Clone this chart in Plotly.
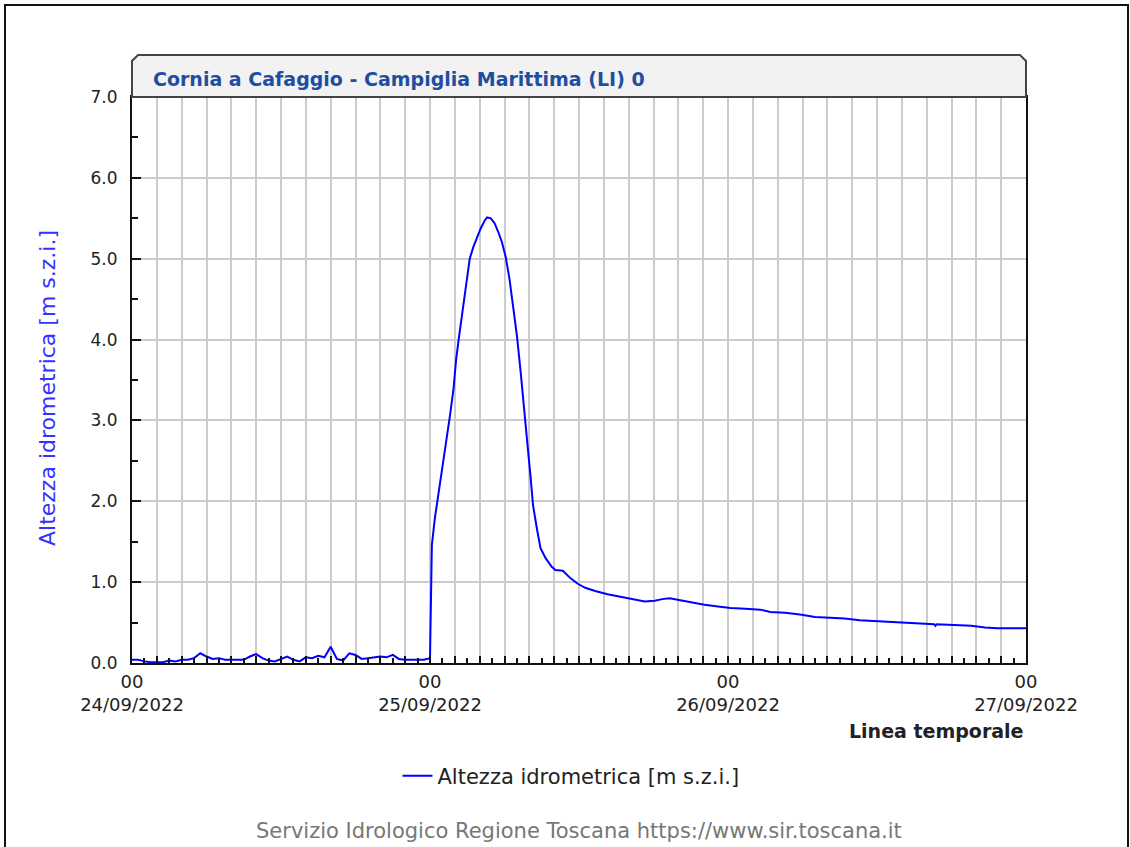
import pandas as pd
import plotly.graph_objects as go

# ---- data (hours since 24/09/2022 00:00, water level in m) ----
hours = [0, 0.5, 1, 1.5, 2, 2.5, 3, 3.5, 4, 4.5, 5, 5.5, 6, 6.5, 7, 7.5, 8, 8.5, 9, 9.5,
         10, 10.5, 11, 11.5, 12, 12.5, 13, 13.5, 14, 14.5, 15, 15.5, 16, 16.5, 17, 17.5,
         18, 18.5, 19, 19.5, 20, 20.5, 21, 21.5, 22, 22.5, 23, 23.5, 24.0,
         24.05, 24.15, 24.4, 24.7, 25.0, 25.3, 25.6, 25.9, 26.1, 26.35, 26.6, 26.9, 27.2,
         27.5, 27.8, 28.1, 28.4, 28.6, 28.9, 29.2, 29.5, 29.8, 30.1, 30.4, 30.7, 31.0,
         31.3, 31.6, 31.85, 32.1, 32.3, 32.6, 32.9, 33.3, 33.8, 34.1, 34.7, 35.3, 35.9,
         36.5, 37.3, 38.3, 39.3, 40.3, 41.3, 42.1, 42.7, 43.3, 44.0, 44.5, 45.3, 46.1,
         47.2, 48.2, 49.4, 50.6, 51.4, 52.6, 53.8, 55.0, 56.2, 57.4, 58.6, 59.8, 61.0,
         61.9, 63.3, 64.6, 64.7, 64.8, 66.2, 67.6, 68.7, 69.7, 72.0]
level = [0.04, 0.04, 0.02, 0.01, 0.01, 0.01, 0.03, 0.02, 0.04, 0.04, 0.06, 0.12, 0.08, 0.05,
         0.06, 0.04, 0.04, 0.04, 0.04, 0.08, 0.11, 0.06, 0.03, 0.02, 0.05, 0.08, 0.04, 0.02,
         0.07, 0.06, 0.09, 0.07, 0.20, 0.05, 0.03, 0.12, 0.10, 0.05, 0.06, 0.07, 0.08, 0.07,
         0.10, 0.05, 0.04, 0.04, 0.04, 0.04, 0.06,
         0.55, 1.46, 1.80, 2.10, 2.40, 2.75, 3.05, 3.40, 3.75, 4.05, 4.35, 4.65, 5.00,
         5.15, 5.27, 5.38, 5.47, 5.51, 5.50, 5.44, 5.33, 5.20, 5.02, 4.75, 4.40, 4.05,
         3.60, 3.15, 2.70, 2.30, 1.95, 1.67, 1.42, 1.30, 1.19, 1.15, 1.14, 1.05, 0.98,
         0.93, 0.89, 0.85, 0.82, 0.79, 0.76, 0.77, 0.79, 0.80, 0.78, 0.76, 0.74, 0.72,
         0.70, 0.68, 0.67, 0.66, 0.63, 0.62, 0.60, 0.57, 0.56, 0.55, 0.53, 0.52, 0.51,
         0.50, 0.49, 0.48, 0.46, 0.48, 0.47, 0.46, 0.44, 0.43, 0.43]
series_name = "Altezza idrometrica [m s.z.i.]"
start_time = "2022-09-24 00:00"
day_labels = ["00<br>24/09/2022", "00<br>25/09/2022", "00<br>26/09/2022", "00<br>27/09/2022"]
y_ticks = [0, 1, 2, 3, 4, 5, 6, 7]
title_text = "Cornia a Cafaggio - Campiglia Marittima (LI) 0"
footer_text = "Servizio Idrologico Regione Toscana https://www.sir.toscana.it"

start = pd.Timestamp(start_time)
x = start + pd.to_timedelta(hours, unit="h")

grid_vals = [start + pd.Timedelta(hours=h) for h in range(0, 73, 2)]
grid_text = [day_labels[h // 24] if h % 24 == 0 else "" for h in range(0, 73, 2)]

FONT = "DejaVu Sans"
W, H = 1130, 847
L, R, T, B = 132, 1026, 97, 663


def px(xp):
    return (xp - L) / (R - L)


def py(yp):
    return (B - yp) / (B - T)


fig = go.Figure()
fig.add_trace(go.Scatter(x=x, y=level, mode="lines", name=series_name,
                         line=dict(color="#0000ff", width=2)))

fig.update_layout(
    width=W, height=H,
    margin=dict(l=L, r=W - R, t=T, b=H - B),
    paper_bgcolor="white", plot_bgcolor="white",
    font=dict(family=FONT, size=14, color="#222222"),
    showlegend=True,
    legend=dict(orientation="h", x=px(571), y=py(776), xanchor="center", yanchor="middle",
                font=dict(family=FONT, size=21, color="#222222")),
)

fig.update_xaxes(
    type="date", range=[start, start + pd.Timedelta(hours=72)],
    tickmode="array", tickvals=grid_vals, ticktext=grid_text,
    showgrid=True, gridcolor="#cccccc", gridwidth=2,
    showline=True, linecolor="#111111", linewidth=2, mirror=True,
    ticks="inside", ticklen=7, tickwidth=2, tickcolor="#111111",
    minor=dict(tickmode="linear", tick0=start, dtick=3600000, ticks="inside",
               ticklen=5, tickwidth=2, tickcolor="#111111", showgrid=False),
    tickfont=dict(family=FONT, size=18, color="#222222"),
    ticklabelstandoff=1,
    zeroline=False,
)
fig.update_yaxes(
    range=[0, 7], tickmode="array", tickvals=y_ticks, tickformat=".1f",
    showgrid=True, gridcolor="#cccccc", gridwidth=2,
    showline=True, linecolor="#111111", linewidth=2, mirror=True,
    ticks="inside", ticklen=9, tickwidth=2, tickcolor="#111111",
    minor=dict(tickmode="linear", tick0=0, dtick=0.5, ticks="inside", ticklen=6,
               tickwidth=2, tickcolor="#111111", showgrid=False),
    tickfont=dict(family=FONT, size=17, color="#222222"),
    ticklabelstandoff=9,
    zeroline=False,
)

# outer frame
fig.add_shape(type="rect", xref="paper", yref="paper",
              x0=px(5), x1=px(1128), y0=py(870), y1=py(5),
              line=dict(color="#111111", width=2), fillcolor="rgba(0,0,0,0)", layer="below")

# title box with chamfered top corners
x0, x1, ytop, ybot, c = px(L), px(R), py(55), py(T), 6
path = (f"M {x0},{ybot} L {x0},{py(55 + c)} L {px(L + c)},{ytop} "
        f"L {px(R - c)},{ytop} L {x1},{py(55 + c)} L {x1},{ybot} Z")
fig.add_shape(type="path", xref="paper", yref="paper", path=path,
              fillcolor="#f2f2f2", line=dict(color="#444444", width=2))

fig.add_annotation(xref="paper", yref="paper", x=px(151), y=py(79), xanchor="left",
                   yanchor="middle", showarrow=False, text=title_text,
                   font=dict(family=FONT, size=19, color="#1f4ea1", weight="bold"))

fig.add_annotation(xref="paper", yref="paper", x=px(47), y=py(388), xanchor="center",
                   yanchor="middle", showarrow=False, textangle=-90,
                   text=series_name,
                   font=dict(family=FONT, size=22, color="#3333ff"))

fig.add_annotation(xref="paper", yref="paper", x=px(1025), y=py(731), xanchor="right",
                   yanchor="middle", showarrow=False, text="Linea temporale",
                   font=dict(family=FONT, size=19, color="#222222", weight="bold"))

fig.add_annotation(xref="paper", yref="paper", x=px(579), y=py(831), xanchor="center",
                   yanchor="middle", showarrow=False, text=footer_text,
                   font=dict(family=FONT, size=21, color="#777777"))

fig.write_html("out.html", config={"displayModeBar": False},
               post_script="document.body.style.margin='0';")
